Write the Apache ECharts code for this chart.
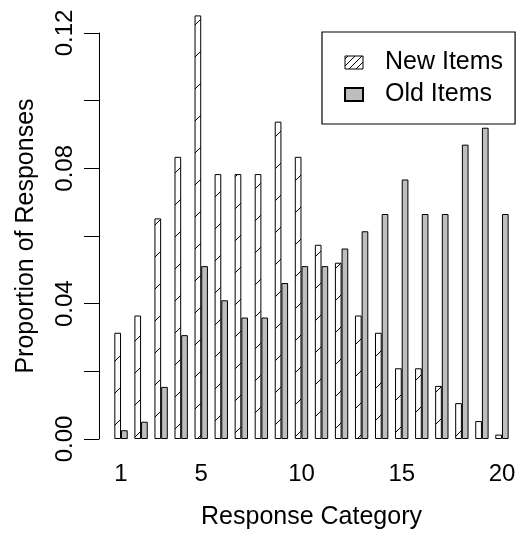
<!DOCTYPE html>
<html>
<head>
<meta charset="utf-8">
<script src="https://cdn.jsdelivr.net/npm/echarts@6/dist/echarts.min.js"></script>
<style>
body{margin:0;background:#fff;}
#main{width:520px;height:542px;}
</style>
</head>
<body>
<div id="main"></div>
<script>
var categories = ["1","2","3","4","5","6","7","8","9","10","11","12","13","14","15","16","17","18","19","20"];
var newItems = [0.0314,0.0365,0.0652,0.0834,0.1252,0.0783,0.0783,0.0783,0.0938,0.0834,0.0574,0.0521,0.0365,0.0314,0.0209,0.0209,0.0157,0.0106,0.0053,0.0013];
var oldItems = [0.0026,0.0051,0.0154,0.0307,0.0511,0.0410,0.0359,0.0359,0.0461,0.0511,0.0511,0.0563,0.0614,0.0665,0.0767,0.0665,0.0665,0.0870,0.0920,0.0665];
var shownLabels = ["1","5","10","15","20"];
var yTicks = ["0.00","0.04","0.08","0.12"];

// hatch fill, like density= in R
function hatch(p, off0){
	var c = document.createElement('canvas');
	c.width = p;
	c.height = p;
	var ctx = c.getContext('2d');
	ctx.fillStyle = '#fff';
	ctx.fillRect(0,0,p,p);
	ctx.strokeStyle = '#000';
	ctx.lineWidth = 1;
	for(var k=-1;k<=1;k++){
		var off = off0 + k*p;
		ctx.beginPath();
		ctx.moveTo(-2, off+2);
		ctx.lineTo(p+2, off-p-2);
		ctx.stroke();
	}
	return c;
}

var font = 'Liberation Sans';
var myChart = echarts.init(document.getElementById('main'));
var option = {
	animation: false,
	backgroundColor: '#fff',
	grid: {left: 111, right: 8, top: 33, bottom: 103},
	legend: {
		orient: 'vertical',
		left: 322,
		top: 32,
		padding: [18, 12, 17, 22],
		borderColor: '#000',
		borderWidth: 1.2,
		itemWidth: 18,
		itemHeight: 13,
		itemGap: 7,
		icon: 'rect',
		textStyle: {fontFamily: font, fontSize: 25, color: '#000', lineHeight: 23, padding: [0,0,0,17]},
		data: [
			{name: 'New Items', itemStyle: {color: {image: hatch(7, 3), repeat: 'repeat'}, borderColor: '#000', borderWidth: 1}},
			{name: 'Old Items'}
		]
	},
	xAxis: {
		type: 'category',
		data: categories,
		name: 'Response Category',
		nameLocation: 'middle',
		nameGap: 66,
		nameTextStyle: {fontFamily: font, fontSize: 25, color: '#000'},
		axisLine: {show: false},
		axisTick: {show: false},
		axisLabel: {
			interval: function(i, v){ return shownLabels.indexOf(v) >= 0; },
			margin: 23,
			fontFamily: font,
			fontSize: 24,
			color: '#000'
		}
	},
	yAxis: {
		type: 'value',
		min: 0,
		max: 0.12,
		interval: 0.02,
		offset: 12,
		name: 'Proportion of Responses',
		nameLocation: 'middle',
		nameGap: 60,
		nameTextStyle: {fontFamily: font, fontSize: 25, color: '#000'},
		splitLine: {show: false},
		axisLine: {show: true, lineStyle: {color: '#000', width: 1}},
		axisTick: {show: true, length: 15, lineStyle: {color: '#000'}},
		axisLabel: {
			rotate: 90,
			margin: 22,
			fontFamily: font,
			fontSize: 24,
			color: '#000',
			formatter: function(v){
				var s = v.toFixed(2);
				return yTicks.indexOf(s) >= 0 ? s : '';
			}
		}
	},
	series: [{
		name: 'New Items',
		type: 'bar',
		clip: false,
		barGap: '0%',
		barCategoryGap: '33.33%',
		itemStyle: {color: {image: hatch(32, 28), repeat: 'repeat'}, borderColor: '#000', borderWidth: 1},
		data: newItems
	},{
		name: 'Old Items',
		type: 'bar',
		clip: false,
		barGap: '0%',
		barCategoryGap: '33.33%',
		itemStyle: {color: '#bebebe', borderColor: '#000', borderWidth: 1},
		data: oldItems
	}]
};
myChart.setOption(option);
</script>
</body>
</html>
